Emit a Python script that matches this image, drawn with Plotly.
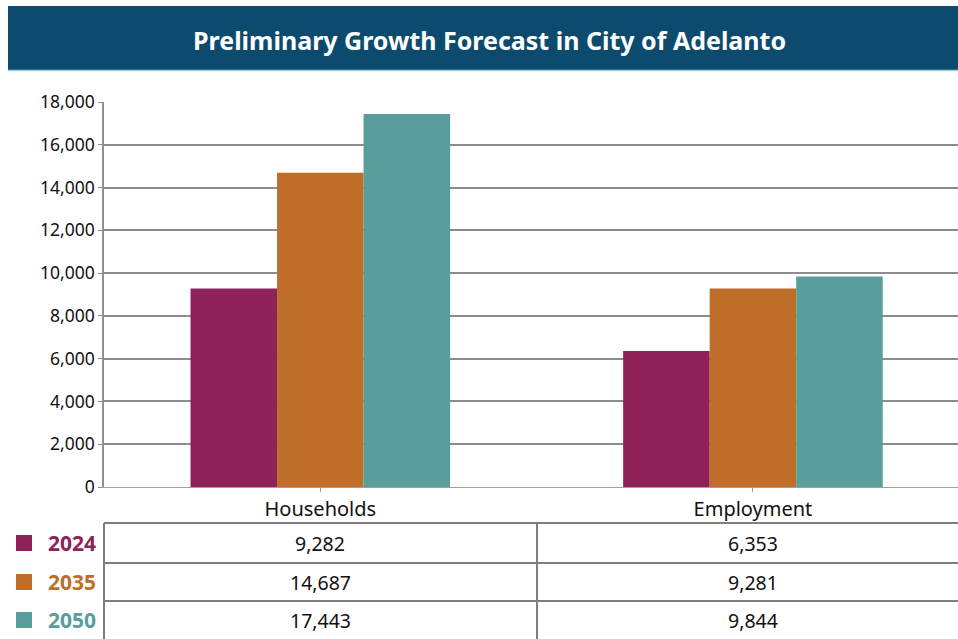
import plotly.graph_objects as go

categories = ["Households", "Employment"]
years = ["2024", "2035", "2050"]
values_2024 = [9282, 6353]
values_2035 = [14687, 9281]
values_2050 = [17443, 9844]
colors = ["#8E2158", "#BE6E29", "#589E9B"]
y_ticks = [0, 2000, 4000, 6000, 8000, 10000, 12000, 14000, 16000, 18000]
title = "Preliminary Growth Forecast in City of Adelanto"

W, H = 958, 639
L, R, T, B = 104, 0, 102, 152
PW = W - L - R
PH = H - T - B

def px(x):
    return (x - L) / PW

def py(y):
    return (H - B - y) / PH

FONT = "Noto Sans"
series = [values_2024, values_2035, values_2050]

fig = go.Figure()
for yr, vals, c in zip(years, series, colors):
    fig.add_trace(go.Bar(x=categories, y=vals, name=yr, marker=dict(color=c, line=dict(width=0)),
                         showlegend=False))

shapes = []
annotations = []
# banner
shapes.append(dict(type="rect", xref="paper", yref="paper", x0=px(8), x1=px(960), y0=py(70), y1=py(6),
                   fillcolor="#0C4B6E", line=dict(width=0), layer="above"))
shapes.append(dict(type="line", xref="paper", yref="paper", x0=px(8), x1=px(960), y0=py(70.5), y1=py(70.5),
                   line=dict(color="#A6CFE3", width=1.5)))
annotations.append(dict(text="<b>" + title + "</b>", xref="paper", yref="paper", x=px(489), y=py(40),
                        showarrow=False, font=dict(family=FONT, size=25, color="white"),
                        xanchor="center", yanchor="middle"))

# table grid
grid_c = "#7F7F7F"
for yy in [523, 563, 601]:
    shapes.append(dict(type="line", xref="paper", yref="paper", x0=px(104), x1=px(960), y0=py(yy), y1=py(yy),
                       line=dict(color=grid_c, width=2)))
for xx in [104, 537]:
    shapes.append(dict(type="line", xref="paper", yref="paper", x0=px(xx), x1=px(xx), y0=py(523), y1=py(645),
                       line=dict(color=grid_c, width=2)))

row_y = [543, 582, 620]
for i, (yr, vals, c) in enumerate(zip(years, series, colors)):
    ry = row_y[i]
    shapes.append(dict(type="rect", xref="paper", yref="paper", x0=px(16), x1=px(32), y0=py(ry + 8), y1=py(ry - 8),
                       fillcolor=c, line=dict(width=0)))
    annotations.append(dict(text="<b>" + yr + "</b>", xref="paper", yref="paper", x=px(46), y=py(ry),
                            showarrow=False, font=dict(family=FONT, size=21, color=c),
                            xanchor="left", yanchor="middle"))
    for cat, v in zip(categories, vals):
        annotations.append(dict(text=f"{v:,}", xref="x", yref="paper", x=cat, y=py(ry),
                                showarrow=False, font=dict(family=FONT, size=19.5, color="#111111"),
                                xanchor="center", yanchor="middle"))

fig.update_layout(
    width=W, height=H,
    margin=dict(l=L, r=R, t=T, b=B, pad=0),
    paper_bgcolor="white", plot_bgcolor="white",
    barmode="group", bargap=0.4, bargroupgap=0,
    font=dict(family=FONT, color="#111111"),
    shapes=shapes, annotations=annotations,
    xaxis=dict(range=[-0.5, 1.474], showline=True, linecolor="#A0A0A0", linewidth=1,
               ticks="outside", ticklen=4, tickcolor="#A0A0A0", showgrid=False,
               tickfont=dict(family=FONT, size=20, color="#111111")),
    yaxis=dict(range=[0, 18000], tickvals=y_ticks, tickformat=",d", showline=True, linecolor="#909090",
               linewidth=1.5, ticks="outside", ticklen=4, tickcolor="#909090",
               showgrid=True, gridcolor="#8C8C8C", gridwidth=1.5, zeroline=False,
               tickfont=dict(family=FONT, size=17.5, color="#111111")),
)

fig.write_html("out.html")
